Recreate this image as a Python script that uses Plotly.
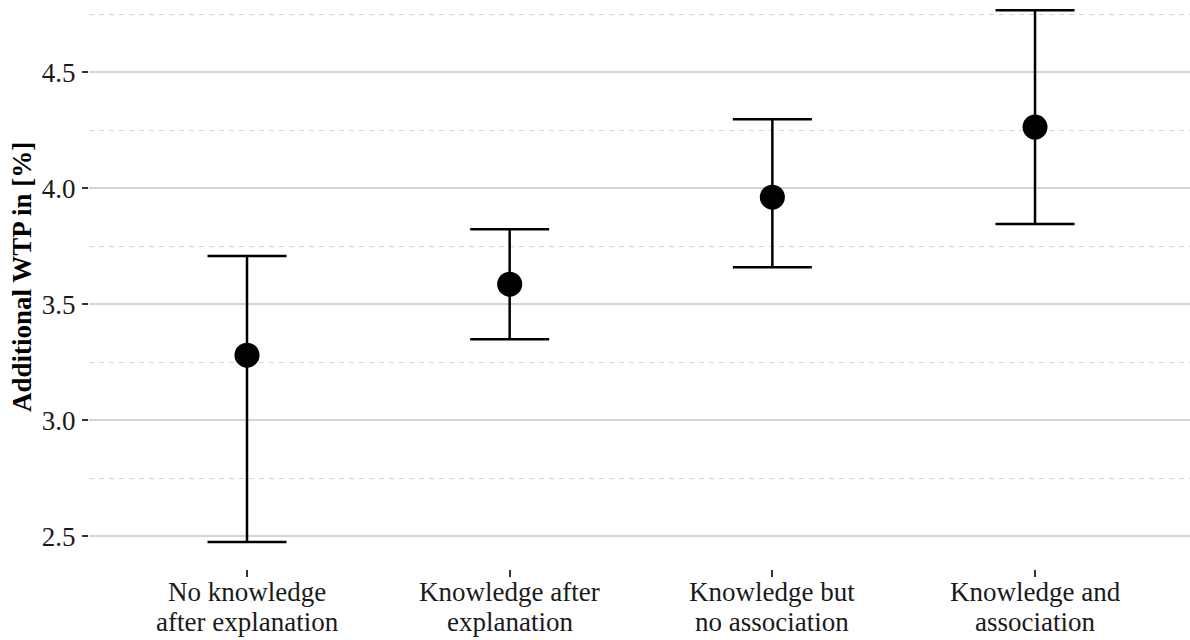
import plotly.graph_objects as go

# Mean additional willingness-to-pay by knowledge group, with confidence bounds
groups = [
    "No knowledge<br>after explanation",
    "Knowledge after<br>explanation",
    "Knowledge but<br>no association",
    "Knowledge and<br>association",
]
wtp_mean = [3.28, 3.586, 3.961, 4.263]
wtp_lower = [2.474, 3.349, 3.659, 3.845]
wtp_upper = [3.707, 3.823, 4.297, 4.767]
y_ticks = [2.5, 3.0, 3.5, 4.0, 4.5]
y_tick_text = ["2.5", "3.0", "3.5", "4.0", "4.5"]

err_plus = [u - m for u, m in zip(wtp_upper, wtp_mean)]
err_minus = [m - l for m, l in zip(wtp_mean, wtp_lower)]

FONT = "Liberation Serif, Times New Roman, serif"
FS = 27

fig = go.Figure()
fig.add_trace(go.Scatter(
    x=groups,
    y=wtp_mean,
    mode="markers",
    marker=dict(size=25, color="black"),
    error_y=dict(
        type="data",
        symmetric=False,
        array=err_plus,
        arrayminus=err_minus,
        color="black",
        thickness=2.5,
        width=39.5,
    ),
    showlegend=False,
    hoverinfo="skip",
))

# Category labels drawn line by line for tighter line spacing
for g in groups:
    for i, line in enumerate(g.split("<br>")):
        fig.add_annotation(
            x=g, xref="x",
            y=0, yref="paper",
            yanchor="middle",
            yshift=-23 - 30 * i,
            text=line,
            showarrow=False,
            font=dict(family=FONT, size=FS, color="#1a1a1a"),
        )

# Y-axis title
fig.add_annotation(
    x=-0.0609, xref="paper",
    y=0.513, yref="paper",
    xanchor="center", yanchor="middle",
    text="<b>Additional WTP in [%]</b>",
    textangle=-90,
    showarrow=False,
    font=dict(family=FONT, size=FS, color="black"),
)

fig.update_layout(
    width=1190,
    height=640,
    margin=dict(l=89, r=0, t=0, b=71),
    paper_bgcolor="white",
    plot_bgcolor="white",
    font=dict(family=FONT, size=FS, color="black"),
    xaxis=dict(
        type="category",
        range=[-0.6015, 3.59],
        showgrid=False,
        zeroline=False,
        showline=False,
        ticks="outside",
        ticklen=7,
        tickwidth=1.5,
        tickcolor="#333333",
        showticklabels=False,
    ),
    yaxis=dict(
        range=[2.358, 4.811],
        tickvals=y_ticks,
        ticktext=y_tick_text,
        showgrid=True,
        gridcolor="#d4d4d4",
        gridwidth=2,
        zeroline=False,
        showline=False,
        ticks="outside",
        ticklen=6,
        tickwidth=2,
        tickcolor="#333333",
        ticklabelstandoff=1,
        tickfont=dict(family=FONT, size=FS, color="#1a1a1a"),
        minor=dict(
            dtick=0.25,
            tick0=2.25,
            showgrid=True,
            gridcolor="#d6d6d6",
            gridwidth=1,
            griddash="5px,5px",
            ticks="",
        ),
    ),
)

fig.write_html("out.html")
